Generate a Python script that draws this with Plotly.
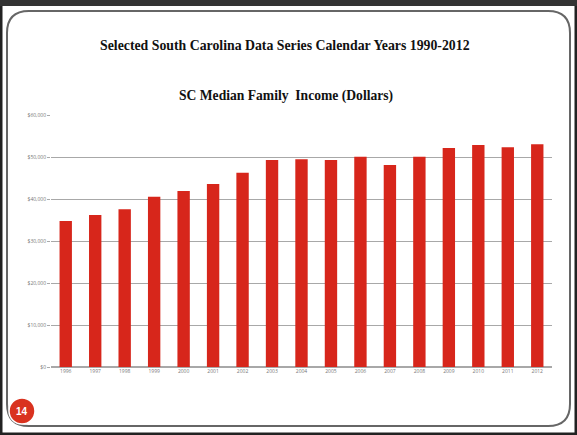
import plotly.graph_objects as go

years = [str(y) for y in range(1996, 2013)]
income = [34760, 36190, 37540, 40550, 41900, 43570, 46270, 49290, 49450,
          49290, 50080, 48100, 50080, 52140, 52860, 52300, 53020]
y_ticks = [0, 10000, 20000, 30000, 40000, 50000, 60000]
y_labels = ["$0", "$10,000", "$20,000", "$30,000", "$40,000", "$50,000", "$60,000"]

W, H = 577, 435
L, R, T, B = 51, 25, 115, 68
PW, PH = W - L - R, H - T - B


def px(x):
    return (x - L) / PW


def py(y):
    return (H - B - y) / PH


fig = go.Figure(go.Bar(x=years, y=income, marker=dict(color="#d7261b", line=dict(width=0)),
                       width=0.42))

shapes = []
# outer dark frame
shapes.append(dict(type="rect", xref="paper", yref="paper", x0=px(1), x1=px(576), y0=py(1), y1=py(434),
                   line=dict(color="#222", width=3), layer="below"))
shapes.append(dict(type="rect", xref="paper", yref="paper", x0=px(0), x1=px(577), y0=py(0), y1=py(6),
                   line=dict(width=0), fillcolor="#333", layer="below"))
# inner rounded rectangle
x0, x1, y0, y1, r = 7, 570, 11, 426, 22
path = (f"M {px(x0 + r)},{py(y0)} L {px(x1 - r)},{py(y0)} Q {px(x1)},{py(y0)} {px(x1)},{py(y0 + r)} "
        f"L {px(x1)},{py(y1 - r)} Q {px(x1)},{py(y1)} {px(x1 - r)},{py(y1)} "
        f"L {px(x0 + r)},{py(y1)} Q {px(x0)},{py(y1)} {px(x0)},{py(y1 - r)} "
        f"L {px(x0)},{py(y0 + r)} Q {px(x0)},{py(y0)} {px(x0 + r)},{py(y0)} Z")
shapes.append(dict(type="path", xref="paper", yref="paper", path=path,
                   line=dict(color="#666", width=2), layer="below"))
# page number circle
cx, cy, cr = 22, 411, 13
shapes.append(dict(type="circle", xref="paper", yref="paper", x0=px(cx - cr), x1=px(cx + cr),
                   y0=py(cy + cr), y1=py(cy - cr), fillcolor="#d9321f",
                   line=dict(color="white", width=1.5), layer="below"))

annotations = [
    dict(text="<b>Selected South Carolina Data Series Calendar Years 1990-2012</b>", xref="paper", yref="paper",
         x=px(285), y=py(45), showarrow=False, xanchor="center", yanchor="middle",
         font=dict(family="Liberation Serif", size=13.8, color="#111")),
    dict(text="<b>SC Median Family  Income (Dollars)</b>", xref="paper", yref="paper",
         x=px(286), y=py(96), showarrow=False, xanchor="center", yanchor="middle",
         font=dict(family="Liberation Serif", size=13.6, color="#111")),
    dict(text="<b>14</b>", xref="paper", yref="paper", x=px(cx), y=py(cy), showarrow=False,
         xanchor="center", yanchor="middle",
         font=dict(family="Liberation Sans", size=10, color="white")),
]

fig.update_layout(
    width=W, height=H, margin=dict(l=L, r=R, t=T, b=B),
    paper_bgcolor="white", plot_bgcolor="white",
    showlegend=False, shapes=shapes, annotations=annotations,
)
fig.update_xaxes(showline=False, showgrid=False, ticks="", tickfont=dict(size=5, color="#777"),
                 tickangle=0, range=[-0.5, 16.5])
fig.update_yaxes(range=[0, 60000], tickvals=y_ticks, ticktext=y_labels, showgrid=True,
                 gridcolor="#a8a8a8", gridwidth=1, zeroline=True, zerolinecolor="#a8a8a8",
                 ticks="outside", ticklen=3, tickcolor="#aaa", tickfont=dict(size=5, color="#777"),
                 showline=False)

fig.write_html("out.html")
